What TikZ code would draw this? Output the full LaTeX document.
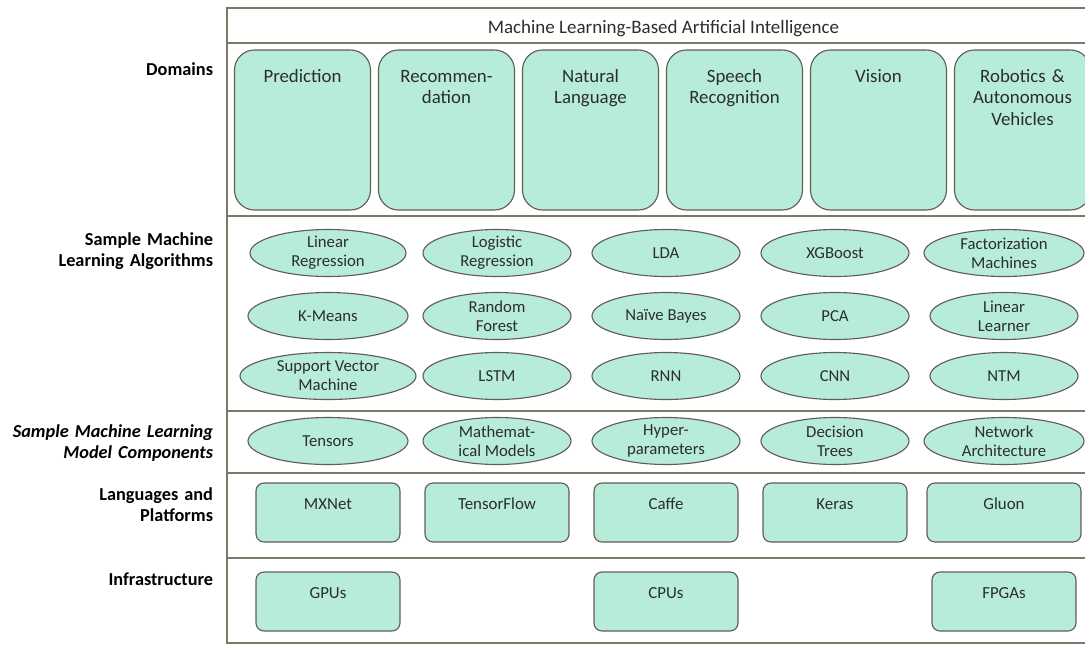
\documentclass[tikz,border=0pt]{standalone}
\usepackage{fontspec}
\setmainfont{Carlito}
\usepackage{tikz}
\usetikzlibrary{shapes,arrows.meta}
\definecolor{mint}{RGB}{182,236,217}
\definecolor{edge}{RGB}{98,94,78}
\definecolor{frameline}{RGB}{124,120,104}
\definecolor{ink}{RGB}{45,45,45}

\begin{document}
\begin{tikzpicture}[
	node distance = 4.225cm,
	layernode/.style={text width=5.5cm, align=right, anchor=base east, font=\fontsize{13}{15.6}\selectfont\bfseries},
	domainnode/.style={rectangle, rounded corners=0.5cm, draw=edge, fill=mint, line width=0.8pt, inner sep=0.1cm, text width=3.2cm, align=center, text height=0.7cm, text depth=3.1cm, text=ink, font=\fontsize{13.4}{15.6}\selectfont},
	algnode/.style={ellipse, draw=edge, fill=mint, line width=0.8pt, inner xsep=0pt, inner ysep=-1.5pt, minimum width=3.7cm, minimum height=1.175cm, align=center, text=ink, font=\fontsize{11.9}{13.5}\selectfont},
	platformnode/.style={rectangle, rounded corners=0.2cm, draw=edge, fill=mint, line width=0.8pt, inner sep=0.1cm, text width=3.4cm, align=center, text height=0.55cm, text depth=0.725cm, text=ink, font=\fontsize{12}{14}\selectfont},
	]
	\useasboundingbox (0,0) rectangle (27.125,-16.125);
	
	%Frame
	\draw[frameline, line width=1.1pt] (5.675,-0.2) rectangle (27.5,-16.075);
	\foreach \y in {-1.075,-5.4,-10.275,-11.825,-13.95}
		\draw[frameline, line width=1.1pt] (5.675,\y) -- (27.5,\y);
	\node[anchor=base, text=ink, font=\fontsize{13.5}{15}\selectfont] (t) at (16.5875,-0.825) {Machine Learning-Based Artificial Intelligence};
	
	%Layer labels
	\node[layernode] (l1) at (5.45,-1.875) {Domains};
	\node[layernode] (l2) at (5.45,-6.125) {Sample Machine\\Learning Algorithms};
	\node[layernode] (l3) at (5.45,-10.925) {\textit{Sample Machine Learning\\Model Components}};
	\node[layernode] (l4) at (5.45,-12.5) {Languages and\\Platforms};
	\node[layernode] (l5) at (5.45,-14.625) {Infrastructure};
	
	%Domains
	\begin{scope}[node distance = 3.6cm]
	\node[domainnode] (d1) at (7.5625,-3.25) {Prediction};
	\node[domainnode] (d2) [right of = d1] {Recommen-\\dation};
	\node[domainnode] (d3) [right of = d2] {Natural\\Language};
	\node[domainnode] (d4) [right of = d3] {Speech\\Recognition};
	\node[domainnode] (d5) [right of = d4] {Vision};
	\node[domainnode] (d6) [right of = d5] {Robotics \&\\Autonomous\\Vehicles};
	\end{scope}
	
	%Algorithms
	\node[algnode, minimum width=3.9cm] (a1) at (8.2,-6.325) {Linear\\Regression};
	\node[algnode] (a2) [right of = a1] {Logistic\\Regression};
	\node[algnode] (a3) [right of = a2] {LDA};
	\node[algnode] (a4) [right of = a3] {XGBoost};
	\node[algnode, minimum width=4cm] (a5) [right of = a4] {Factorization\\Machines};
	\node[algnode, minimum width=4cm] (a6) at (8.2,-7.9) {K-Means};
	\node[algnode] (a7) [right of = a6] {Random\\Forest};
	\node[algnode] (a8) [right of = a7] {Naïve Bayes};
	\node[algnode] (a9) [right of = a8] {PCA};
	\node[algnode] (a10) [right of = a9] {Linear\\Learner};
	\node[algnode, minimum width=4.4cm] (a11) at (8.2,-9.4) {Support Vector\\Machine};
	\node[algnode] (a12) [right of = a11] {LSTM};
	\node[algnode] (a13) [right of = a12] {RNN};
	\node[algnode] (a14) [right of = a13] {CNN};
	\node[algnode] (a15) [right of = a14] {NTM};
	
	%Model components
	\node[algnode, minimum width=4cm] (c1) at (8.2,-11.025) {Tensors};
	\node[algnode] (c2) [right of = c1] {Mathemat-\\ical Models};
	\node[algnode] (c3) [right of = c2] {Hyper-\\parameters};
	\node[algnode] (c4) [right of = c3] {Decision\\Trees};
	\node[algnode, minimum width=4cm] (c5) [right of = c4] {Network\\Architecture};
	
	%Platforms
	\node[platformnode] (p1) at (8.2,-12.8125) {MXNet};
	\node[platformnode] (p2) [right of = p1] {TensorFlow};
	\node[platformnode] (p3) [right of = p2] {Caffe};
	\node[platformnode] (p4) [right of = p3] {Keras};
	\node[platformnode, text width=3.65cm] (p5) [right of = p4] {Gluon};
	
	%Infrastructure
	\node[platformnode] (h1) at (8.2,-15.0375) {GPUs};
	\node[platformnode, node distance = 8.45cm] (h2) [right of = h1] {CPUs};
	\node[platformnode, node distance = 8.45cm] (h3) [right of = h2] {FPGAs};
\end{tikzpicture}
\end{document}
